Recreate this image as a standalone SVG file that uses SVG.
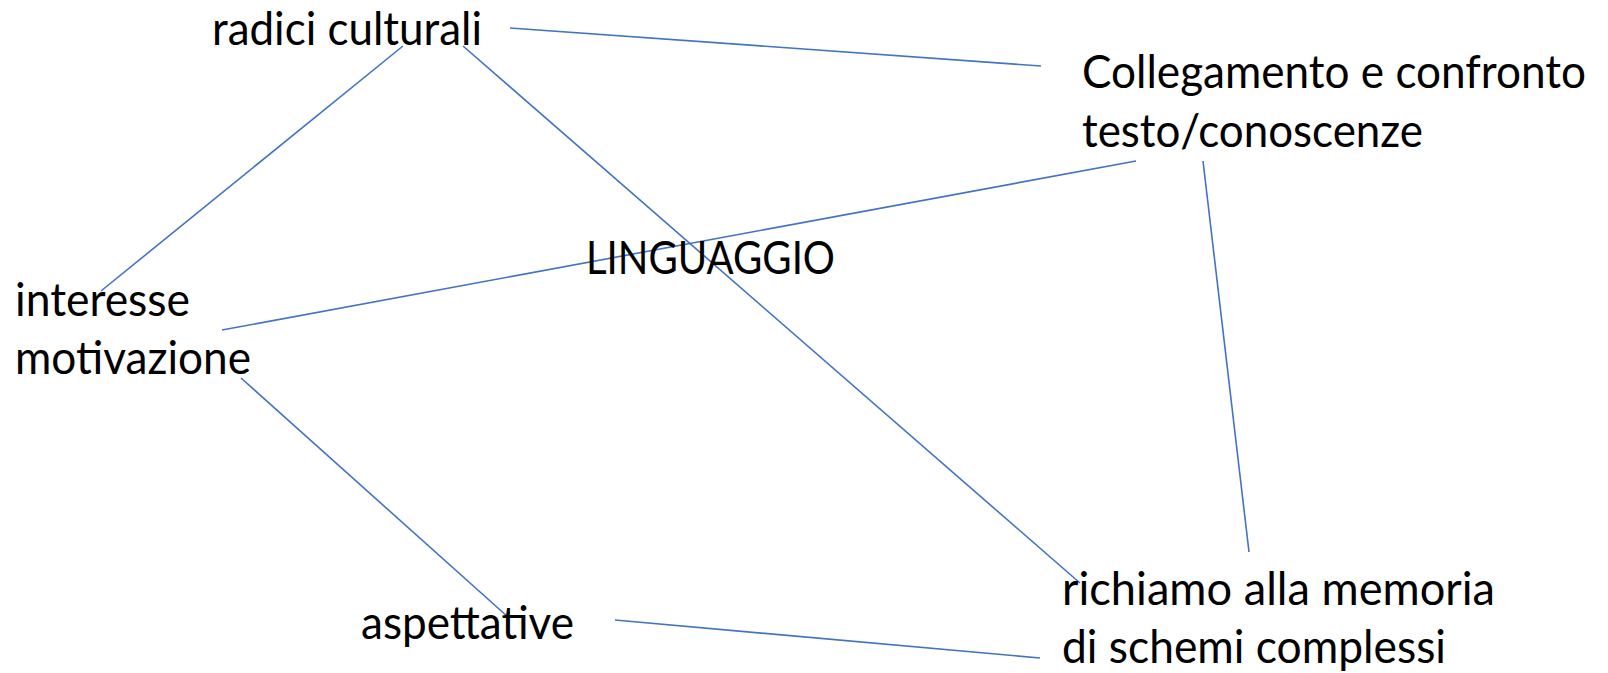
<svg xmlns="http://www.w3.org/2000/svg" width="1608" height="673" viewBox="0 0 1608 673">
<style>
.t{font-family:"Lato","Open Sans","Liberation Sans",sans-serif;font-size:47px;fill:#000}
.c line{stroke:#4472C4;stroke-width:1.6;fill:none}
</style>
<rect width="1608" height="673" fill="#fff"/>
<g class="c" id="connectors">
<line x1="510" y1="28" x2="1041" y2="66"/>
<line x1="403" y1="46" x2="101" y2="291"/>
<line x1="463" y1="46" x2="1080" y2="583"/>
<line x1="1136" y1="161" x2="222" y2="330"/>
<line x1="1203" y1="161" x2="1249" y2="552"/>
<line x1="241" y1="378" x2="508" y2="617"/>
<line x1="615" y1="620" x2="1040" y2="658"/>
</g>
<g id="radici"><text class="t" x="212" y="45" textLength="270" lengthAdjust="spacingAndGlyphs">radici culturali</text></g>
<g id="collegamento"><text class="t" x="1082" y="88" textLength="504" lengthAdjust="spacingAndGlyphs" style="font-size:46px">Collegamento e confronto</text><text class="t" x="1082" y="147" textLength="341" lengthAdjust="spacingAndGlyphs">testo/conoscenze</text></g>
<g id="linguaggio"><text class="t" x="586" y="274" textLength="249" lengthAdjust="spacingAndGlyphs">LINGUAGGIO</text></g>
<g id="interesse"><text class="t" x="15" y="316" textLength="175" lengthAdjust="spacingAndGlyphs">interesse</text><text class="t" x="15" y="374" textLength="236" lengthAdjust="spacingAndGlyphs">motivazione</text></g>
<g id="aspettative"><text class="t" x="361" y="639" textLength="213" lengthAdjust="spacingAndGlyphs">aspettative</text></g>
<g id="richiamo"><text class="t" x="1062" y="605" textLength="433" lengthAdjust="spacingAndGlyphs">richiamo alla memoria</text><text class="t" x="1062" y="663" textLength="384" lengthAdjust="spacingAndGlyphs">di schemi complessi</text></g>
</svg>
